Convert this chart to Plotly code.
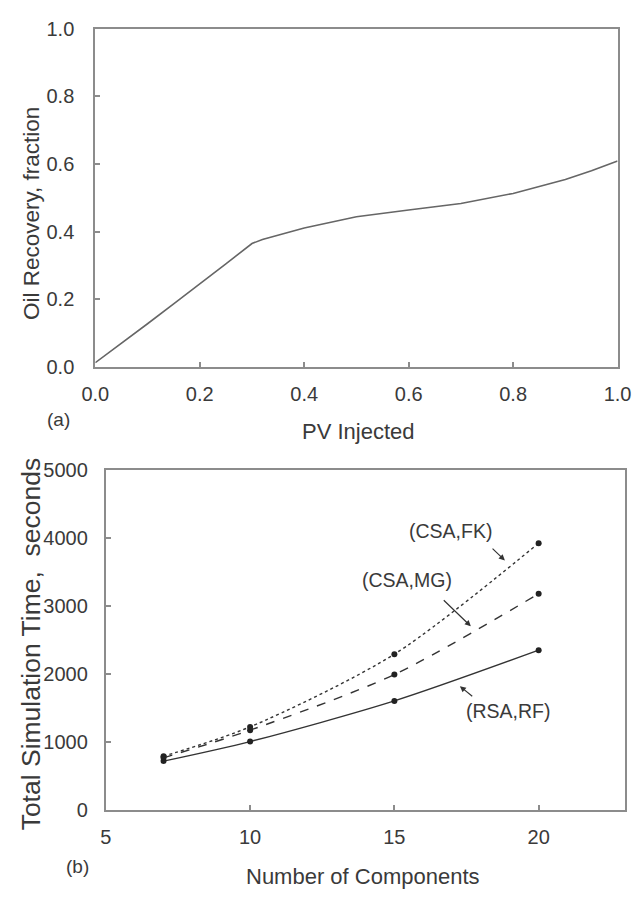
import plotly.graph_objects as go

W, H = 644, 901

# ---- data: panel (a)
pv_injected = [0.0, 0.05, 0.10, 0.15, 0.20, 0.25, 0.30, 0.32, 0.40, 0.50, 0.60, 0.70, 0.80, 0.90, 0.95, 1.0]
oil_recovery = [0.013, 0.07, 0.128, 0.187, 0.245, 0.305, 0.365, 0.377, 0.411, 0.444, 0.464, 0.483, 0.513, 0.554, 0.58, 0.609]

# ---- data: panel (b)
n_components = [7, 10, 15, 20]
time_rsa_rf = [720, 1008, 1607, 2354]
time_csa_mg = [768, 1176, 1995, 3186]
time_csa_fk = [792, 1224, 2295, 3930]

x_ticks_a = [0.0, 0.2, 0.4, 0.6, 0.8, 1.0]
y_ticks_a = [0.0, 0.2, 0.4, 0.6, 0.8, 1.0]
x_ticks_b = [5, 10, 15, 20]
y_ticks_b = [0, 1000, 2000, 3000, 4000, 5000]

# label annotations (text, x, y) and arrows (tip x, tip y, tail x, tail y)
labels_b = [("(CSA,FK)", 16.95, 4115), ("(CSA,MG)", 15.43, 3380), ("(RSA,RF)", 18.95, 1464)]
arrows_b = [(18.83, 3675, 18.35, 3870), (17.65, 2705, 16.66, 3110), (17.27, 1824, 17.75, 1656)]

TXT = "#3a3a3a"
AX = "#8c8c8c"
FONT = "Liberation Sans, Arial, sans-serif"


def px(x):
    return x / W


def py(y):
    return 1 - y / H


fig = go.Figure()

fig.add_trace(go.Scatter(x=pv_injected, y=oil_recovery, mode="lines",
                         line=dict(color="#666666", width=1.6),
                         xaxis="x", yaxis="y", showlegend=False))

for ys, dash in [(time_rsa_rf, "solid"), (time_csa_mg, "dash"), (time_csa_fk, "dot")]:
    fig.add_trace(go.Scatter(x=n_components, y=ys, mode="lines+markers",
                             line=dict(color="#333333", width=1.4, dash=dash, shape="spline", smoothing=0.8),
                             marker=dict(color="#222222", size=6),
                             xaxis="x2", yaxis="y2", showlegend=False))

axis_common = dict(showline=True, linecolor=AX, linewidth=2, mirror=True,
                   ticks="inside", ticklen=5, tickwidth=1.5, tickcolor=AX,
                   showgrid=False, zeroline=False, ticklabeloverflow="allow",
                   tickfont=dict(family=FONT, size=20, color=TXT))

fig.update_layout(
    width=W, height=H,
    margin=dict(l=0, r=0, t=0, b=0),
    paper_bgcolor="white", plot_bgcolor="white",
    font=dict(family=FONT, color=TXT),
    xaxis=dict(domain=[px(85), px(631)], range=[0, 1], anchor="y",
               tickvals=x_ticks_a, ticktext=[f"{v:.1f}" for v in x_ticks_a],
               ticklabelstandoff=8, **axis_common),
    yaxis=dict(domain=[py(365), py(18)], range=[0, 1], anchor="x",
               tickvals=y_ticks_a, ticktext=[f"{v:.1f}" for v in y_ticks_a],
               ticklabelstandoff=15, **axis_common),
    xaxis2=dict(domain=[px(96), px(639)], range=[5, 23], anchor="y2",
                tickvals=x_ticks_b, ticktext=[str(v) for v in x_ticks_b],
                ticklabelstandoff=8, **axis_common),
    yaxis2=dict(domain=[py(819), py(471)], range=[0, 5000], anchor="x2",
                tickvals=y_ticks_b, ticktext=[str(v) for v in y_ticks_b],
                ticklabelstandoff=12, **axis_common),
)

ann = []


def txt(text, x, y, size, angle=0):
    ann.append(dict(text=text, x=px(x), y=py(y), xref="paper", yref="paper",
                    xanchor="center", yanchor="middle", textangle=angle, showarrow=False,
                    font=dict(size=size, color=TXT, family=FONT)))


# axis titles and panel tags
txt("Oil Recovery, fraction", 19, 208, 22.5, -90)
txt("PV Injected", 360, 431, 22)
txt("(a)", 47, 419, 19)
txt("Total Simulation Time,  seconds", 18, 649, 26.5, -90)
txt("Number of Components", 365, 887, 22)
txt("(b)", 66, 877, 19)

for t, x, y in labels_b:
    ann.append(dict(text=t, x=x, y=y, xref="x2", yref="y2", showarrow=False,
                    xanchor="center", yanchor="middle",
                    font=dict(size=19.5, color=TXT, family=FONT)))
for tx, ty, sx, sy in arrows_b:
    ann.append(dict(text="", x=tx, y=ty, ax=sx, ay=sy, xref="x2", yref="y2",
                    axref="x2", ayref="y2", showarrow=True, arrowhead=2, arrowsize=1,
                    arrowwidth=1.2, arrowcolor="#333333"))

fig.update_layout(annotations=ann)
fig.write_html("out.html")
